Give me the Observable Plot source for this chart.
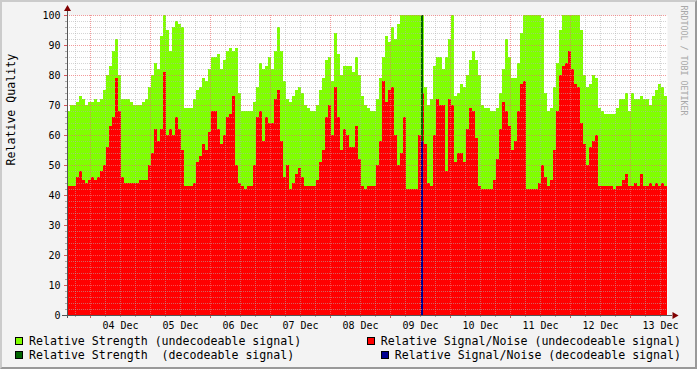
<!DOCTYPE html>
<html>
<head>
<meta charset="utf-8">
<script src="https://cdn.jsdelivr.net/npm/d3@7"></script>
<script src="https://cdn.jsdelivr.net/npm/@observablehq/plot@0.6"></script>
<style>
  html, body { margin: 0; padding: 0; background: #f3f3f3; }
  #wrap { position: relative; width: 697px; height: 369px; background: #f3f3f3; overflow: hidden;
          font-family: "DejaVu Sans Mono", monospace; }
  #frame { position: absolute; left: 0; top: 0; width: 697px; height: 369px; box-sizing: border-box;
           border-top: 2px solid #cbcbcb; border-left: 2px solid #cbcbcb;
           border-bottom: 2px solid #999999; border-right: 2px solid #999999; pointer-events: none; }
  #chart svg { display: block; }
  .legend { font-size: 11.6px; line-height: 14px; color: #000; white-space: pre; }
  .row { display: flex; justify-content: space-between; padding-left: 15px; padding-right: 16px; height: 14px; }
  .item { display: flex; align-items: center; }
  .sw { width: 6px; height: 6px; border: 1px solid #000; margin-right: 6px; }
</style>
</head>
<body>
<div id="wrap">
  <div id="chart"></div>
  <div class="legend" id="legend"></div>
  <div id="frame"></div>
</div>
<script>
// ---- data (one sample every 1.2 h, hours relative to 04 Dec 00:00) ----
const startHour = -9.2;
const stepHours = 1.2;

const strength = [
  68,70,70,71,73,72,70,71,71,72,
  71,72,75,80,83,88,92,80,72,72,
  72,71,70,70,70,71,72,76,80,84,
  82,93,100,95,88,96,98,97,96,69,
  69,69,72,75,76,79,78,82,86,86,
  87,82,85,88,89,88,89,74,68,68,
  68,68,71,76,84,82,83,86,82,88,
  96,88,78,72,71,73,75,76,74,70,
  69,68,68,70,75,79,85,86,78,94,
  87,80,83,83,83,81,86,80,73,70,
  69,68,68,72,79,86,93,91,96,92,
  97,100,100,100,100,100,100,100,100,76,
  70,72,83,86,86,82,86,92,100,73,
  74,77,76,80,85,88,85,80,70,69,
  69,68,68,69,74,82,92,86,79,79,
  84,94,100,100,100,100,100,100,99,74,
  68,69,76,84,95,100,100,100,100,100,
  100,95,80,76,77,80,79,69,68,67,
  67,67,67,69,72,72,74,68,74,72,
  72,73,72,72,70,73,75,77,76,73
];

const snr = [
  43,43,43,46,48,45,44,45,46,45,
  46,48,50,56,63,66,79,68,46,44,
  44,44,44,44,45,45,45,50,54,62,
  58,62,81,60,62,60,66,62,55,43,
  43,43,44,51,53,57,55,61,68,68,
  62,57,60,66,67,73,50,44,43,42,
  43,43,50,66,68,58,66,64,64,72,
  75,58,46,50,42,44,47,49,46,43,
  43,43,43,45,51,55,66,70,60,76,
  66,55,62,60,56,56,63,52,43,42,
  43,43,43,50,58,78,71,75,76,60,
  50,54,66,42,42,42,42,60,74,57,
  44,43,60,72,70,70,48,72,70,51,
  54,54,51,62,69,68,59,43,42,42,
  42,42,45,52,62,71,68,63,55,58,
  68,77,78,42,42,42,42,44,50,46,
  43,45,55,68,80,83,84,88,82,77,
  76,64,57,50,56,58,60,43,43,43,
  43,43,42,43,43,45,47,43,43,44,
  43,47,43,43,44,43,44,43,44,43
];

// decodeable signal (only one sample)
const decodeSample = [118];
const decodeStrength = [100];
const decodeSnr = [58];

const dayLabels = ["04 Dec","05 Dec","06 Dec","07 Dec","08 Dec","09 Dec","10 Dec","11 Dec","12 Dec","13 Dec"];
const yTicks = [0,10,20,30,40,50,60,70,80,90,100];

const legendItems = [
  {label: "Relative Strength (undecodeable signal)", color: "#80ff00"},
  {label: "Relative Signal/Noise (undecodeable signal)", color: "#ff0000"},
  {label: "Relative Strength  (decodeable signal)", color: "#006400"},
  {label: "Relative Signal/Noise (decodeable signal)", color: "#000090"}
];

// ---- build tables ----
const rows = strength.map((s, i) => ({
  t0: startHour + i * stepHours,
  t1: startHour + (i + 1) * stepHours,
  strength: s,
  snr: snr[i]
}));
const decRows = decodeSample.map((k, j) => ({
  t0: startHour + k * stepHours,
  t1: startHour + (k + 1) * stepHours,
  strength: decodeStrength[j],
  snr: decodeSnr[j]
}));

const xMin = startHour;
const xMax = startHour + strength.length * stepHours;

const midnights = dayLabels.map((d, k) => k * 24).filter(h => h >= xMin && h <= xMax);
const noons = dayLabels.map((d, k) => k * 24 + 12);
const minorX = d3.range(Math.ceil(xMin / 6) * 6, xMax, 6).filter(h => h % 24 !== 0);
const minorY = d3.range(2, 100, 2).filter(v => v % 10 !== 0);

const gridGray = "#b0b0b0";
const gridRed = "#ee7070";

const chart = Plot.plot({
  width: 697,
  height: 334,
  marginLeft: 67,
  marginRight: 30,
  marginTop: 15,
  marginBottom: 19,
  x: {type: "linear", domain: [xMin, xMax], label: null},
  y: {type: "linear", domain: [0, 100], label: null},
  style: {background: "transparent", fontFamily: "DejaVu Sans Mono", fontSize: "10px", color: "#000", overflow: "visible"},
  marks: [
    Plot.frame({fill: "#ffffff", stroke: null}),
    Plot.rectY(rows, {x1: "t0", x2: "t1", y1: 0, y2: "strength", fill: "#80ff00", shapeRendering: "crispEdges"}),
    Plot.rectY(rows, {x1: "t0", x2: "t1", y1: 0, y2: "snr", fill: "#ff0000", shapeRendering: "crispEdges"}),
    Plot.rectY(decRows, {x1: "t0", x2: "t1", y1: 0, y2: "strength", fill: "#006400", insetRight: 1, shapeRendering: "crispEdges"}),
    Plot.rectY(decRows, {x1: "t0", x2: "t1", y1: 0, y2: "snr", fill: "#000090", insetRight: 1, shapeRendering: "crispEdges"}),
    // grid
    Plot.ruleY(minorY, {stroke: gridGray, strokeOpacity: 0.55, strokeDasharray: "1,1", shapeRendering: "crispEdges"}),
    Plot.ruleX(minorX, {stroke: gridGray, strokeOpacity: 0.55, strokeDasharray: "1,1", shapeRendering: "crispEdges"}),
    Plot.ruleY(yTicks.filter(v => v > 0), {stroke: gridRed, strokeOpacity: 0.7, strokeDasharray: "1,1", shapeRendering: "crispEdges"}),
    Plot.ruleX(midnights, {stroke: gridRed, strokeOpacity: 0.7, strokeDasharray: "1,1", shapeRendering: "crispEdges"}),
    // tick marks
    Plot.axisX({ticks: minorX, tickSize: 2, stroke: "#aaa", tickFormat: () => "", label: null}),
    Plot.axisX({ticks: midnights, tickSize: 3, stroke: "#dd5555", tickFormat: () => "", label: null}),
    Plot.axisY({ticks: minorY, tickSize: 2, stroke: "#aaa", tickFormat: () => "", label: null}),
    Plot.axisY({ticks: yTicks, tickSize: 3, stroke: "#dd5555", tickFormat: () => "", label: null}),
    // labels
    Plot.axisX({ticks: noons, tickSize: 0, tickPadding: 6, fontSize: 10, fill: "#000",
      tickFormat: d => dayLabels[Math.round((d - 12) / 24)], label: null}),
    Plot.axisY({ticks: yTicks, tickSize: 0, tickPadding: 7, fontSize: 10, fill: "#000", label: null}),
    // axis lines and arrows
    Plot.ruleY([0], {x1: xMin - 2, x2: xMax + 2, stroke: "#555", strokeWidth: 1}),
    Plot.ruleX([xMin], {y1: -1, y2: 101.5, stroke: "#555", strokeWidth: 1}),
    Plot.dot([0], {x: xMax + 2, y: 0, dx: 2, symbol: "triangle", r: 2.6, rotate: 90, fill: "#800000", stroke: null}),
    Plot.dot([0], {x: xMin, y: 101.5, dy: -2, symbol: "triangle", r: 2.6, fill: "#800000", stroke: null}),
    // titles
    Plot.text(["Relative Quality"], {frameAnchor: "left", dx: -56, rotate: -90, fontSize: 11.6, fill: "#000"}),
    Plot.text(["RRDTOOL / TOBI OETIKER"], {frameAnchor: "top-right", dx: 19, dy: -10, rotate: 90,
      textAnchor: "start", fontSize: 8.3, fill: "#a8a8a8"})
  ]
});
document.getElementById("chart").appendChild(chart);

// legend
const legend = document.getElementById("legend");
for (let r = 0; r < 2; r++) {
  const row = document.createElement("div");
  row.className = "row";
  legendItems.slice(r * 2, r * 2 + 2).forEach(it => {
    const item = document.createElement("div");
    item.className = "item";
    const sw = document.createElement("span");
    sw.className = "sw";
    sw.style.background = it.color;
    const tx = document.createElement("span");
    tx.textContent = it.label;
    item.appendChild(sw);
    item.appendChild(tx);
    row.appendChild(item);
  });
  legend.appendChild(row);
}
</script>
</body>
</html>
